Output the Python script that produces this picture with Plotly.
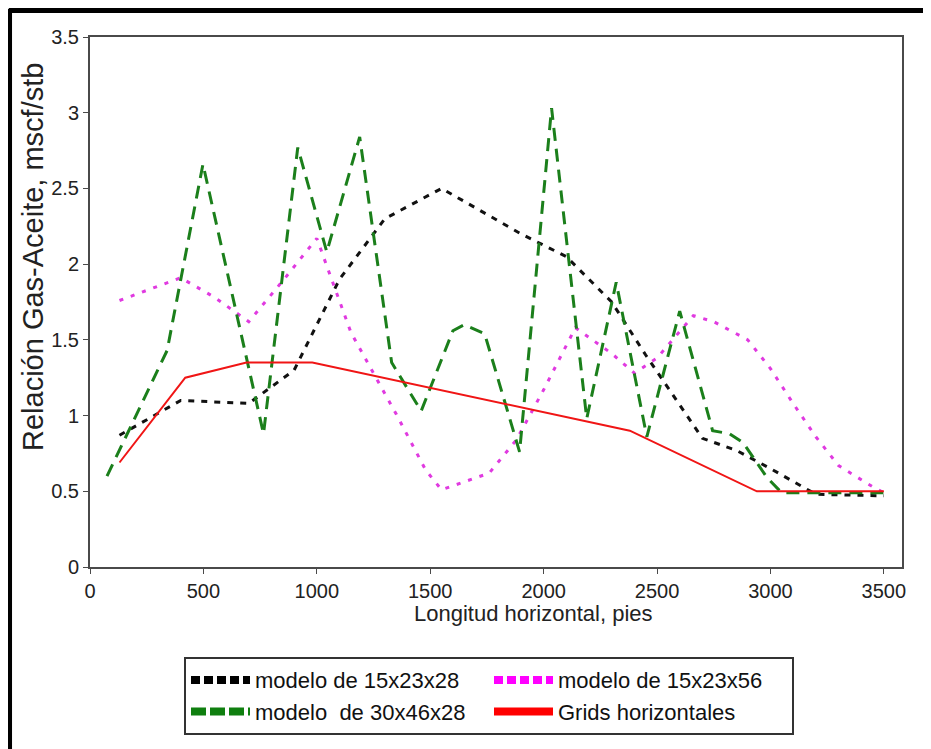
import plotly.graph_objects as go

# series
x_15x23x28 = [130, 400, 700, 900, 1100, 1300, 1550, 1900, 2100, 2300, 2450, 2700, 2850, 3000, 3200, 3500]
y_15x23x28 = [0.87, 1.1, 1.08, 1.3, 1.9, 2.3, 2.5, 2.2, 2.05, 1.75, 1.4, 0.85, 0.77, 0.65, 0.48, 0.47]

x_15x23x56 = [130, 400, 550, 700, 850, 1000, 1150, 1350, 1480, 1550, 1760, 1880, 2000, 2140,
              2300, 2400, 2500, 2660, 2750, 2900, 3000, 3100, 3200, 3300, 3450, 3500]
y_15x23x56 = [1.76, 1.91, 1.78, 1.62, 1.89, 2.17, 1.55, 1.01, 0.64, 0.51, 0.62, 0.84, 1.17, 1.58,
              1.41, 1.28, 1.38, 1.66, 1.62, 1.5, 1.31, 1.08, 0.86, 0.67, 0.53, 0.49]

x_30x46x28 = [75, 340, 498, 700, 765, 916, 1044, 1189, 1330, 1460, 1600, 1650, 1740, 1894, 2035,
              2190, 2320, 2455, 2600, 2745, 2820, 2880, 2985, 3050, 3500]
y_30x46x28 = [0.6, 1.43, 2.66, 1.3, 0.88, 2.77, 2.08, 2.84, 1.35, 1.03, 1.56, 1.6, 1.54, 0.76, 3.03,
              0.98, 1.88, 0.86, 1.69, 0.9, 0.88, 0.82, 0.59, 0.49, 0.49]

x_grids = [130, 420, 690, 980, 2380, 2940, 3500]
y_grids = [0.69, 1.25, 1.35, 1.35, 0.9, 0.5, 0.5]

names = ['modelo de 15x23x28', 'modelo de 15x23x56',
         'modelo\u00a0 de 30x46x28', 'Grids horizontales']

x_ticks = [0, 500, 1000, 1500, 2000, 2500, 3000, 3500]
y_ticks = [0, 0.5, 1, 1.5, 2, 2.5, 3, 3.5]

FONT = 'Liberation Sans, Arial, sans-serif'
black, magenta, green, red = '#111111', '#E03AE0', '#1B7F1B', '#F01515'

fig = go.Figure()
series = [
    (x_15x23x28, y_15x23x28, black, 3, '6px,7px'),
    (x_15x23x56, y_15x23x56, magenta, 3, '4px,8px'),
    (x_30x46x28, y_30x46x28, green, 3, '13px,8px'),
    (x_grids, y_grids, red, 2, 'solid'),
]
for x, y, c, w, d in series:
    fig.add_trace(go.Scatter(x=x, y=y, mode='lines', showlegend=False,
                             line=dict(color=c, width=w, dash=d)))

# legend-only entries with thicker samples, like the original
legend_style = [('#000000', 8, '9px,4px'), ('#FF00FF', 8, '9px,4px'),
                ('#0F7F0F', 8, '15px,4px'), ('#FF0000', 8, 'solid')]
for name, (c, w, d) in zip(names, legend_style):
    fig.add_trace(go.Scatter(x=[None], y=[None], mode='lines', name=name,
                             line=dict(color=c, width=w, dash=d)))

axis = dict(showgrid=False, zeroline=False, showline=True, linecolor='#4a4a4a', linewidth=2,
            mirror=True, ticks='outside', ticklen=5, tickcolor='#4a4a4a', tickwidth=1,
            tickfont=dict(family=FONT, size=20, color='#222222'))

# page has an 8px body margin, so the figure is 8px smaller than the window
fig.update_layout(
    width=923, height=741,
    margin=dict(l=82, r=29, t=29, b=182, autoexpand=False),
    paper_bgcolor='white', plot_bgcolor='white',
    font=dict(family=FONT),
    xaxis=dict(range=[0, 3580], tickvals=x_ticks, **axis),
    yaxis=dict(range=[0, 3.5], tickvals=y_ticks, **axis),
    legend=dict(orientation='h', x=(184 - 90) / 812, y=-0.17, xanchor='left', yanchor='top',
                entrywidth=229, itemwidth=59, tracegroupgap=0,
                bordercolor='#333333', borderwidth=2,
                font=dict(family=FONT, size=22, color='#111111')),
    annotations=[
        dict(text='Longitud horizontal, pies', xref='paper', yref='paper',
             x=(533 - 90) / 812, y=(567 - 613) / 530, xanchor='center', yanchor='middle',
             showarrow=False, font=dict(family=FONT, size=22, color='#222222')),
        dict(text='Relación Gas-Aceite, mscf/stb', xref='paper', yref='paper',
             x=(33 - 90) / 812, y=(567 - 257) / 530, xanchor='center', yanchor='middle',
             textangle=-90, showarrow=False, font=dict(family=FONT, size=29, color='#222222')),
    ],
    shapes=[
        dict(type='line', xref='paper', yref='paper', x0=-0.0991, x1=-0.0991, y0=1.053, y1=-0.35,
             line=dict(color='black', width=5)),
        dict(type='line', xref='paper', yref='paper', x0=-0.1, x1=1.04, y0=1.05, y1=1.05,
             line=dict(color='black', width=5)),
    ],
)

fig.write_html('out.html')
